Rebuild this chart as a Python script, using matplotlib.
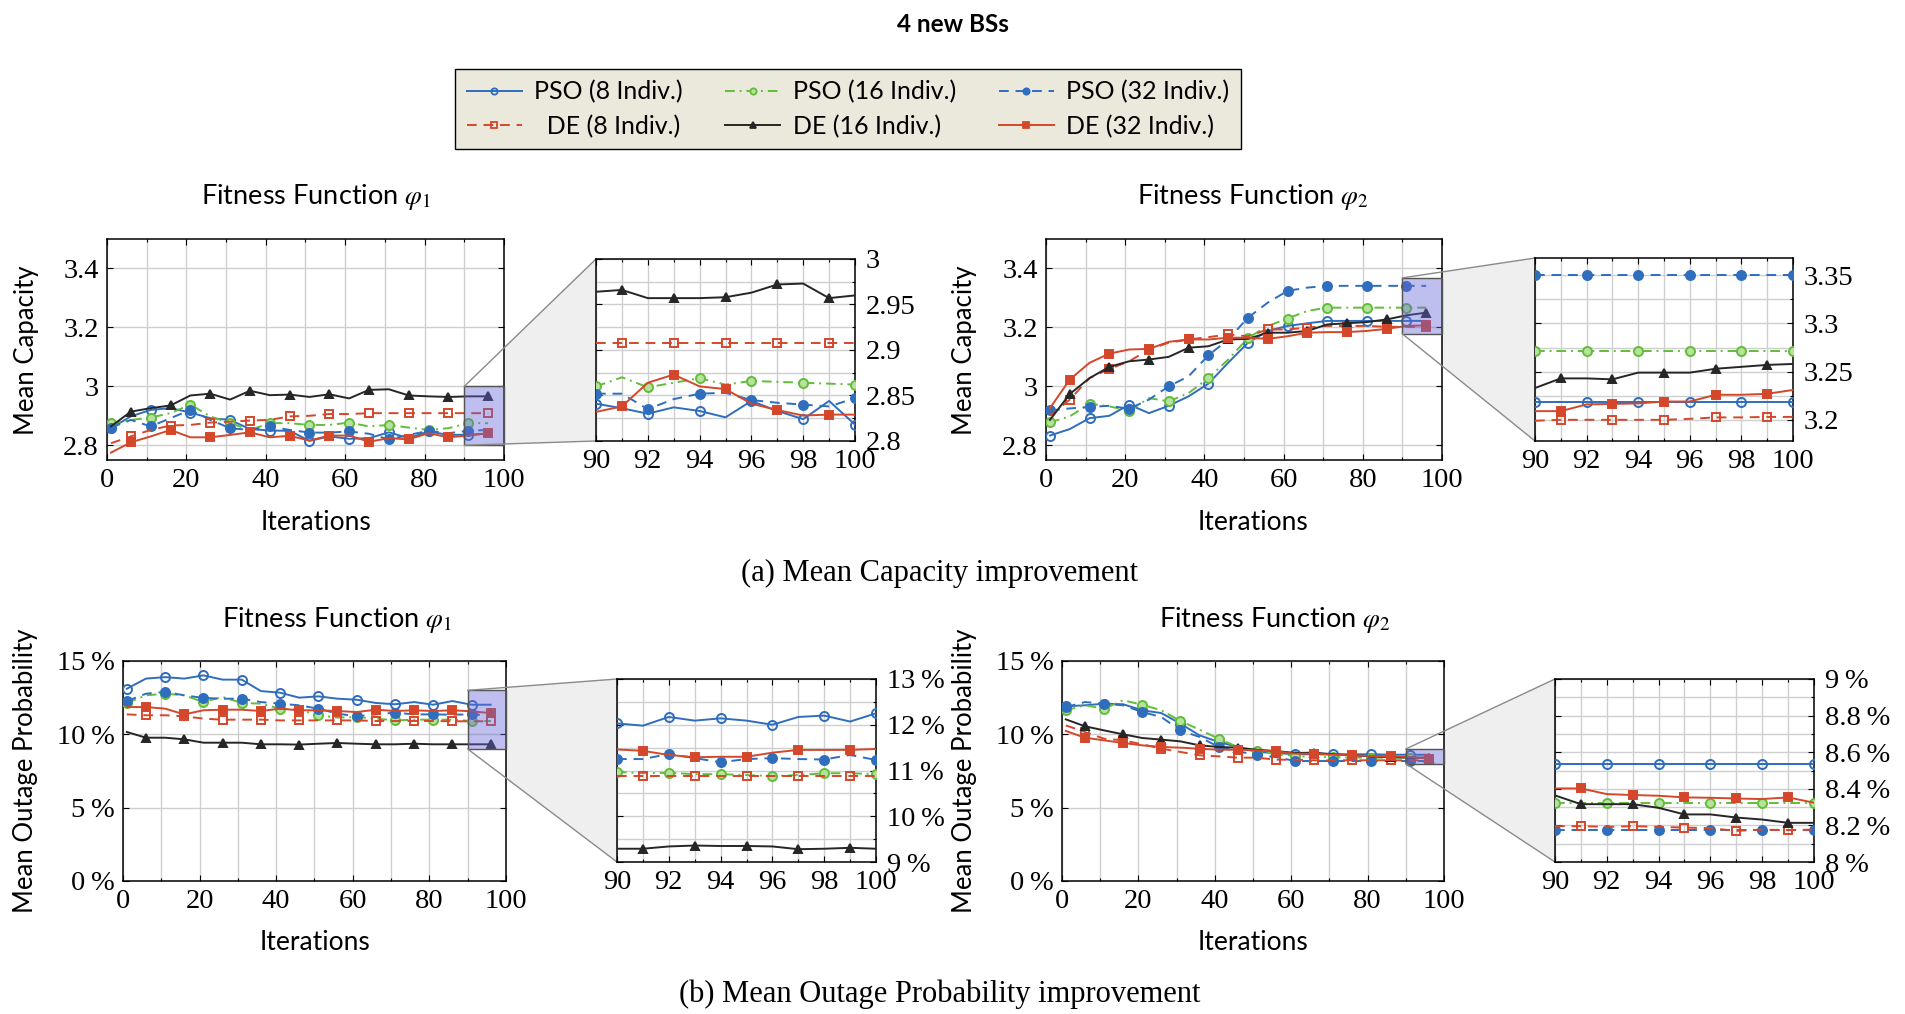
import matplotlib
matplotlib.use('Agg')
import matplotlib.pyplot as plt
from matplotlib.patches import Rectangle, Polygon
from matplotlib.lines import Line2D
from matplotlib.ticker import MultipleLocator, FuncFormatter

SANS = ['Lato', 'DejaVu Sans']
SERIF = ['Liberation Serif', 'DejaVu Serif']
plt.rcParams['font.family'] = SANS
plt.rcParams['mathtext.fontset'] = 'stix'

W, H = 1906, 1014
FS = 18.5      # sans labels
TFS = 20.5     # serif tick labels

# ---------------- data ----------------
ITER_MAIN = list(range(1, 97, 5))      # 1, 6, ..., 96
ITER_ZOOM = list(range(90, 101))       # 90 ... 100

LABELS = ['PSO (8 Indiv.)', 'PSO (16 Indiv.)', 'PSO (32 Indiv.)',
          '  DE (8 Indiv.)', 'DE (16 Indiv.)', 'DE (32 Indiv.)']

# Mean capacity, fitness phi1
cap1_pso8 = [2.858, 2.898, 2.920, 2.926, 2.911, 2.892, 2.886, 2.855, 2.850, 2.849,
             2.815, 2.830, 2.822, 2.824, 2.844, 2.824, 2.847, 2.835, 2.836, 2.839]
cap1_pso16 = [2.875, 2.886, 2.894, 2.909, 2.938, 2.898, 2.875, 2.852, 2.875, 2.875,
              2.869, 2.869, 2.877, 2.864, 2.869, 2.860, 2.852, 2.858, 2.875, 2.875]
cap1_pso32 = [2.860, 2.886, 2.864, 2.892, 2.920, 2.886, 2.858, 2.852, 2.864, 2.852,
              2.843, 2.843, 2.847, 2.839, 2.820, 2.835, 2.849, 2.841, 2.849, 2.852]
cap1_de8 = [2.807, 2.830, 2.852, 2.867, 2.869, 2.877, 2.880, 2.884, 2.886, 2.898,
            2.900, 2.906, 2.906, 2.909, 2.909, 2.909, 2.909, 2.909, 2.909, 2.909]
cap1_de16 = [2.864, 2.914, 2.926, 2.935, 2.969, 2.975, 2.955, 2.985, 2.970, 2.972,
             2.964, 2.973, 2.959, 2.988, 2.990, 2.969, 2.966, 2.964, 2.966, 2.966]
cap1_de32 = [2.775, 2.810, 2.830, 2.852, 2.827, 2.827, 2.835, 2.844, 2.827, 2.832,
             2.816, 2.833, 2.833, 2.812, 2.824, 2.820, 2.841, 2.827, 2.833, 2.841]

cap1z_pso8 = [2.841, 2.836, 2.830, 2.837, 2.833, 2.826, 2.844, 2.833, 2.824, 2.844, 2.818]
cap1z_pso16 = [2.860, 2.870, 2.859, 2.864, 2.869, 2.862, 2.866, 2.865, 2.864, 2.863, 2.862]
cap1z_pso32 = [2.852, 2.852, 2.835, 2.846, 2.852, 2.853, 2.845, 2.842, 2.840, 2.838, 2.847]
cap1z_de8 = [2.908, 2.908, 2.908, 2.908, 2.908, 2.908, 2.908, 2.908, 2.908, 2.908, 2.908]
cap1z_de16 = [2.964, 2.966, 2.957, 2.957, 2.957, 2.958, 2.963, 2.972, 2.973, 2.957, 2.960]
cap1z_de32 = [2.832, 2.838, 2.864, 2.873, 2.860, 2.857, 2.841, 2.834, 2.828, 2.829, 2.829]

# Mean capacity, fitness phi2
cap2_pso8 = [2.833, 2.855, 2.892, 2.900, 2.938, 2.909, 2.934, 2.966, 3.009, 3.080,
             3.148, 3.188, 3.205, 3.214, 3.222, 3.222, 3.222, 3.222, 3.222, 3.222]
cap2_pso16 = [2.878, 2.898, 2.941, 2.932, 2.917, 2.960, 2.949, 2.977, 3.028, 3.091,
              3.164, 3.205, 3.230, 3.256, 3.267, 3.267, 3.267, 3.267, 3.267, 3.267]
cap2_pso32 = [2.918, 2.925, 2.930, 2.934, 2.924, 2.955, 3.000, 3.034, 3.105, 3.159,
              3.233, 3.284, 3.324, 3.335, 3.341, 3.341, 3.341, 3.341, 3.341, 3.341]
cap2_de8 = [2.900, 2.955, 3.028, 3.059, 3.085, 3.125, 3.148, 3.159, 3.167, 3.176,
            3.170, 3.193, 3.193, 3.199, 3.205, 3.205, 3.205, 3.202, 3.202, 3.201]
cap2_de16 = [2.886, 2.974, 3.028, 3.066, 3.085, 3.091, 3.100, 3.131, 3.136, 3.159,
             3.161, 3.182, 3.182, 3.188, 3.210, 3.214, 3.218, 3.227, 3.241, 3.250]
cap2_de32 = [2.926, 3.023, 3.080, 3.111, 3.125, 3.127, 3.151, 3.159, 3.159, 3.165,
             3.165, 3.161, 3.170, 3.182, 3.184, 3.184, 3.188, 3.195, 3.205, 3.207]

cap2z_pso8 = [3.219, 3.219, 3.219, 3.219, 3.219, 3.219, 3.219, 3.219, 3.219, 3.219, 3.219]
cap2z_pso16 = [3.271, 3.271, 3.271, 3.271, 3.271, 3.271, 3.271, 3.271, 3.271, 3.271, 3.271]
cap2z_pso32 = [3.350, 3.350, 3.350, 3.350, 3.350, 3.350, 3.350, 3.350, 3.350, 3.350, 3.350]
cap2z_de8 = [3.199, 3.200, 3.200, 3.200, 3.200, 3.200, 3.201, 3.2025, 3.2025, 3.203, 3.203]
cap2z_de16 = [3.233, 3.243, 3.243, 3.242, 3.249, 3.249, 3.249, 3.253, 3.255, 3.257, 3.258]
cap2z_de32 = [3.209, 3.209, 3.216, 3.2165, 3.217, 3.219, 3.219, 3.226, 3.226, 3.227, 3.231]

# Mean outage probability (%), fitness phi1
out1_pso8 = [13.11, 13.80, 13.90, 13.80, 14.02, 13.73, 13.73, 12.95, 12.84, 12.50,
             12.59, 12.43, 12.36, 12.14, 12.05, 12.20, 12.02, 12.27, 12.02, 12.02]
out1_pso16 = [12.14, 12.66, 12.77, 12.66, 12.20, 12.55, 12.14, 12.09, 11.75, 11.68,
              11.30, 11.14, 11.18, 11.07, 10.95, 11.00, 11.00, 11.00, 10.91, 10.91]
out1_pso32 = [12.27, 12.77, 12.89, 12.66, 12.48, 12.43, 12.43, 12.20, 12.09, 11.98,
              11.75, 11.41, 11.23, 11.36, 11.48, 11.36, 11.36, 11.34, 11.36, 11.30]
out1_de8 = [11.36, 11.30, 11.30, 11.23, 11.07, 11.00, 11.00, 11.00, 10.95, 10.95,
            10.95, 10.95, 10.95, 10.91, 10.91, 10.91, 10.91, 10.89, 10.89, 10.89]
out1_de16 = [10.16, 9.77, 9.77, 9.66, 9.43, 9.43, 9.43, 9.32, 9.32, 9.30,
             9.36, 9.41, 9.36, 9.32, 9.32, 9.36, 9.32, 9.32, 9.32, 9.32]
out1_de32 = [11.86, 11.86, 11.75, 11.36, 11.64, 11.68, 11.68, 11.59, 11.75, 11.64,
             11.64, 11.59, 11.52, 11.68, 11.59, 11.64, 11.59, 11.64, 11.57, 11.45]

out1z_pso8 = [12.03, 11.98, 12.17, 12.09, 12.14, 12.09, 12.00, 12.17, 12.20, 12.07, 12.25]
out1z_pso16 = [10.97, 10.94, 10.95, 10.92, 10.92, 10.90, 10.88, 10.90, 10.94, 10.94, 10.92]
out1z_pso32 = [11.25, 11.25, 11.36, 11.27, 11.18, 11.25, 11.27, 11.25, 11.24, 11.34, 11.23]
out1z_de8 = [10.89, 10.89, 10.89, 10.89, 10.89, 10.89, 10.89, 10.89, 10.89, 10.89, 10.89]
out1z_de16 = [9.29, 9.29, 9.34, 9.36, 9.35, 9.35, 9.34, 9.28, 9.29, 9.31, 9.29]
out1z_de32 = [11.46, 11.43, 11.34, 11.29, 11.30, 11.30, 11.39, 11.45, 11.45, 11.45, 11.47]

# Mean outage probability (%), fitness phi2
out2_pso8 = [11.91, 11.98, 12.09, 12.05, 11.64, 11.45, 10.73, 9.93, 9.48, 9.14,
             8.80, 8.73, 8.64, 8.64, 8.64, 8.64, 8.64, 8.61, 8.61, 8.61]
out2_pso16 = [11.64, 11.98, 11.75, 12.32, 12.02, 11.64, 10.91, 10.32, 9.70, 9.14,
              8.86, 8.68, 8.52, 8.45, 8.45, 8.41, 8.41, 8.41, 8.41, 8.41]
out2_pso32 = [11.86, 12.20, 12.09, 11.98, 11.52, 11.18, 10.27, 9.82, 9.14, 8.86,
              8.57, 8.45, 8.18, 8.18, 8.18, 8.18, 8.18, 8.18, 8.18, 8.18]
out2_de8 = [10.61, 10.16, 9.70, 9.59, 9.32, 9.02, 8.80, 8.57, 8.50, 8.41,
            8.41, 8.27, 8.27, 8.23, 8.23, 8.23, 8.23, 8.23, 8.23, 8.23]
out2_de16 = [11.02, 10.55, 10.27, 10.00, 9.75, 9.64, 9.52, 9.25, 9.14, 9.09,
             8.95, 8.86, 8.73, 8.75, 8.64, 8.57, 8.50, 8.45, 8.41, 8.41]
out2_de32 = [10.23, 9.77, 9.59, 9.41, 9.25, 9.14, 9.09, 9.02, 8.95, 8.95,
             8.91, 8.84, 8.68, 8.68, 8.61, 8.57, 8.52, 8.50, 8.45, 8.34]

out2z_pso8 = [8.536, 8.536, 8.536, 8.536, 8.536, 8.536, 8.536, 8.536, 8.536, 8.536, 8.536]
out2z_pso16 = [8.325, 8.325, 8.325, 8.325, 8.325, 8.325, 8.325, 8.325, 8.325, 8.325, 8.325]
out2z_pso32 = [8.177, 8.177, 8.177, 8.177, 8.177, 8.177, 8.177, 8.177, 8.177, 8.177, 8.177]
out2z_de8 = [8.196, 8.196, 8.192, 8.196, 8.192, 8.188, 8.185, 8.170, 8.177, 8.174, 8.177]
out2z_de16 = [8.364, 8.316, 8.316, 8.316, 8.296, 8.260, 8.260, 8.243, 8.232, 8.214, 8.214]
out2z_de32 = [8.402, 8.402, 8.371, 8.366, 8.362, 8.353, 8.351, 8.347, 8.344, 8.353, 8.324]

# ---------------- styles ----------------
BLUE = '#2f6dbd'
GREEN = '#62bd3a'
RED = '#d4472b'
BLACK = '#262626'

# (color, linestyle, marker, facecolor, marker size, marker phase)
STYLES = [
    (BLUE, '-', 'o', 'none', 6.5, 0),
    (GREEN, (0, (5, 2.5, 1, 2.5)), 'o', '#b6e29c', 6.5, 0),
    (BLUE, (0, (5, 3.5)), 'o', BLUE, 6.5, 0),
    (RED, (0, (5, 3.5)), 's', 'none', 6.3, 1),
    (BLACK, '-', '^', BLACK, 5.8, 1),
    (RED, '-', 's', RED, 6.3, 1),
]

fig = plt.figure(figsize=(W / 100, H / 100), dpi=100)


def px_rect(x0, y0, x1, y1):
    return [x0 / W, 1 - y1 / H, (x1 - x0) / W, (y1 - y0) / H]


def draw_lines(ax, xs, series):
    handles = []
    for ys, (c, ls, mk, fc, ms, ph) in zip(series, STYLES):
        h, = ax.plot(xs, ys, color=c, ls=ls, lw=1.4, marker=mk, ms=ms, mfc=fc,
                     mec=c, mew=1.4, markevery=(ph, 2), zorder=3)
        handles.append(h)
    return handles


def style_axes(ax):
    for s in ax.spines.values():
        s.set_linewidth(1.1)
        s.set_color('black')
    ax.tick_params(which='both', direction='in', top=True, right=True,
                   labelsize=TFS, length=4, width=0.8)
    ax.tick_params(which='minor', length=2.5)
    ax.set_axisbelow(True)
    for lab in ax.get_xticklabels() + ax.get_yticklabels():
        lab.set_family(SERIF)


def panel(main_px, zoom_px, main_series, zoom_series, main_ylim, main_step,
          zoom_ylim, zoom_step, fmt):
    ax = fig.add_axes(px_rect(*main_px), zorder=1)
    hs = draw_lines(ax, ITER_MAIN, main_series)
    ax.set_xlim(0, 100)
    ax.set_ylim(*main_ylim)
    ax.xaxis.set_major_locator(MultipleLocator(20))
    ax.xaxis.set_minor_locator(MultipleLocator(10))
    ax.yaxis.set_major_locator(MultipleLocator(main_step))
    ax.yaxis.set_major_formatter(FuncFormatter(fmt))
    ax.grid(True, which='major', color='#cfcfcf', lw=1.0)
    ax.grid(True, which='minor', axis='x', color='#cfcfcf', lw=1.0)
    ax.tick_params(axis='x', pad=6)
    ax.tick_params(axis='y', pad=6)
    style_axes(ax)

    zlo, zhi = zoom_ylim
    ax.add_patch(Rectangle((90, zlo), 10, zhi - zlo, facecolor=(0.40, 0.40, 0.85, 0.42),
                           edgecolor='#555555', lw=1.0, zorder=6, clip_on=False))

    iz = fig.add_axes(px_rect(*zoom_px), zorder=3)
    draw_lines(iz, ITER_ZOOM, zoom_series)
    iz.set_xlim(90, 100)
    iz.set_ylim(*zoom_ylim)
    iz.xaxis.set_major_locator(MultipleLocator(2))
    iz.xaxis.set_minor_locator(MultipleLocator(1))
    iz.yaxis.set_major_locator(MultipleLocator(zoom_step))
    iz.yaxis.set_minor_locator(MultipleLocator(zoom_step / 2))
    iz.yaxis.set_major_formatter(FuncFormatter(fmt))
    iz.yaxis.tick_right()
    iz.grid(True, which='both', color='#cfcfcf', lw=1.0)
    iz.tick_params(axis='x', pad=6)
    iz.tick_params(axis='y', pad=8)
    style_axes(iz)
    iz.tick_params(left=True, labelleft=False, labelright=True)

    # grey funnel linking the zoom box and the inset
    inv = fig.transFigure.inverted()
    tl = inv.transform(ax.transData.transform((90, zhi)))
    bl = inv.transform(ax.transData.transform((90, zlo)))
    itl = inv.transform(iz.transAxes.transform((0, 1)))
    ibl = inv.transform(iz.transAxes.transform((0, 0)))
    fig.add_artist(Polygon([tl, itl, ibl, bl], closed=True, transform=fig.transFigure,
                           facecolor='#efefef', edgecolor='none', zorder=-1))
    for q, p in ((tl, itl), (bl, ibl)):
        fig.add_artist(Line2D([q[0], p[0]], [q[1], p[1]], transform=fig.transFigure,
                              color='#8a8a8a', lw=1.0, zorder=2))
    return hs


def fmt_num(v, pos):
    return '%g' % round(v, 4)


def fmt_pct(v, pos):
    return '%g\u2009%%' % round(v, 4)


panel((107, 239, 504, 460), (596, 259, 855, 441),
      [cap1_pso8, cap1_pso16, cap1_pso32, cap1_de8, cap1_de16, cap1_de32],
      [cap1z_pso8, cap1z_pso16, cap1z_pso32, cap1z_de8, cap1z_de16, cap1z_de32],
      (2.75, 3.5), 0.2, (2.8, 3.0), 0.05, fmt_num)
panel((1046, 239, 1442, 460), (1535, 258, 1793, 441),
      [cap2_pso8, cap2_pso16, cap2_pso32, cap2_de8, cap2_de16, cap2_de32],
      [cap2z_pso8, cap2z_pso16, cap2z_pso32, cap2z_de8, cap2z_de16, cap2z_de32],
      (2.75, 3.5), 0.2, (3.178, 3.368), 0.05, fmt_num)
panel((123, 661, 506, 881), (617, 679, 876, 862),
      [out1_pso8, out1_pso16, out1_pso32, out1_de8, out1_de16, out1_de32],
      [out1z_pso8, out1z_pso16, out1z_pso32, out1z_de8, out1z_de16, out1z_de32],
      (0, 15), 5, (9, 13), 1, fmt_pct)
panel((1062, 661, 1444, 881), (1555, 679, 1814, 862),
      [out2_pso8, out2_pso16, out2_pso32, out2_de8, out2_de16, out2_de32],
      [out2z_pso8, out2z_pso16, out2z_pso32, out2z_de8, out2z_de16, out2z_de32],
      (0, 15), 5, (8, 9), 0.2, fmt_pct)


def ftext(x, y, s, **kw):
    fig.text(x / W, 1 - y / H, s, ha='center', va='center', **kw)


ftext(953, 24, '4 new BSs', fontsize=17.5, fontweight='bold')

ftext(316, 197, r'Fitness Function $\varphi_1$', fontsize=19.5)
ftext(1253, 197, r'Fitness Function $\varphi_2$', fontsize=19.5)
ftext(337, 620, r'Fitness Function $\varphi_1$', fontsize=19.5)
ftext(1275, 620, r'Fitness Function $\varphi_2$', fontsize=19.5)

ftext(316, 523, 'Iterations', fontsize=FS + 0.5)
ftext(1253, 523, 'Iterations', fontsize=FS + 0.5)
ftext(315, 943, 'Iterations', fontsize=FS + 0.5)
ftext(1253, 943, 'Iterations', fontsize=FS + 0.5)

ftext(27, 350, 'Mean Capacity', fontsize=FS, rotation=90)
ftext(965, 350, 'Mean Capacity', fontsize=FS, rotation=90)
ftext(26, 771, 'Mean Outage Probability', fontsize=FS, rotation=90)
ftext(965, 771, 'Mean Outage Probability', fontsize=FS, rotation=90)

ftext(940, 573, '(a) Mean Capacity improvement', fontsize=22, family=SERIF)
ftext(940, 994, '(b) Mean Outage Probability improvement', fontsize=22, family=SERIF)

# legend: column-major order so that rows read PSO / DE
order = [0, 3, 1, 4, 2, 5]
leg_handles = []
for i in order:
    c, ls, mk, fc, ms, ph = STYLES[i]
    leg_handles.append(Line2D([], [], color=c, ls=ls, lw=1.4, marker=mk, ms=4.5,
                              mfc=fc, mec=c, mew=1.3))
leg = fig.legend(leg_handles, [LABELS[i] for i in order], ncol=3, loc='center',
                 bbox_to_anchor=(848 / W, 1 - 109 / H), fontsize=18, frameon=True,
                 fancybox=False, edgecolor='black', facecolor='#ebe8dc', framealpha=1,
                 handlelength=2.2, columnspacing=1.7, handletextpad=0.5,
                 labelspacing=0.45, borderpad=0.45)
leg.get_frame().set_linewidth(1.0)

fig.savefig('out.png', dpi=100)
